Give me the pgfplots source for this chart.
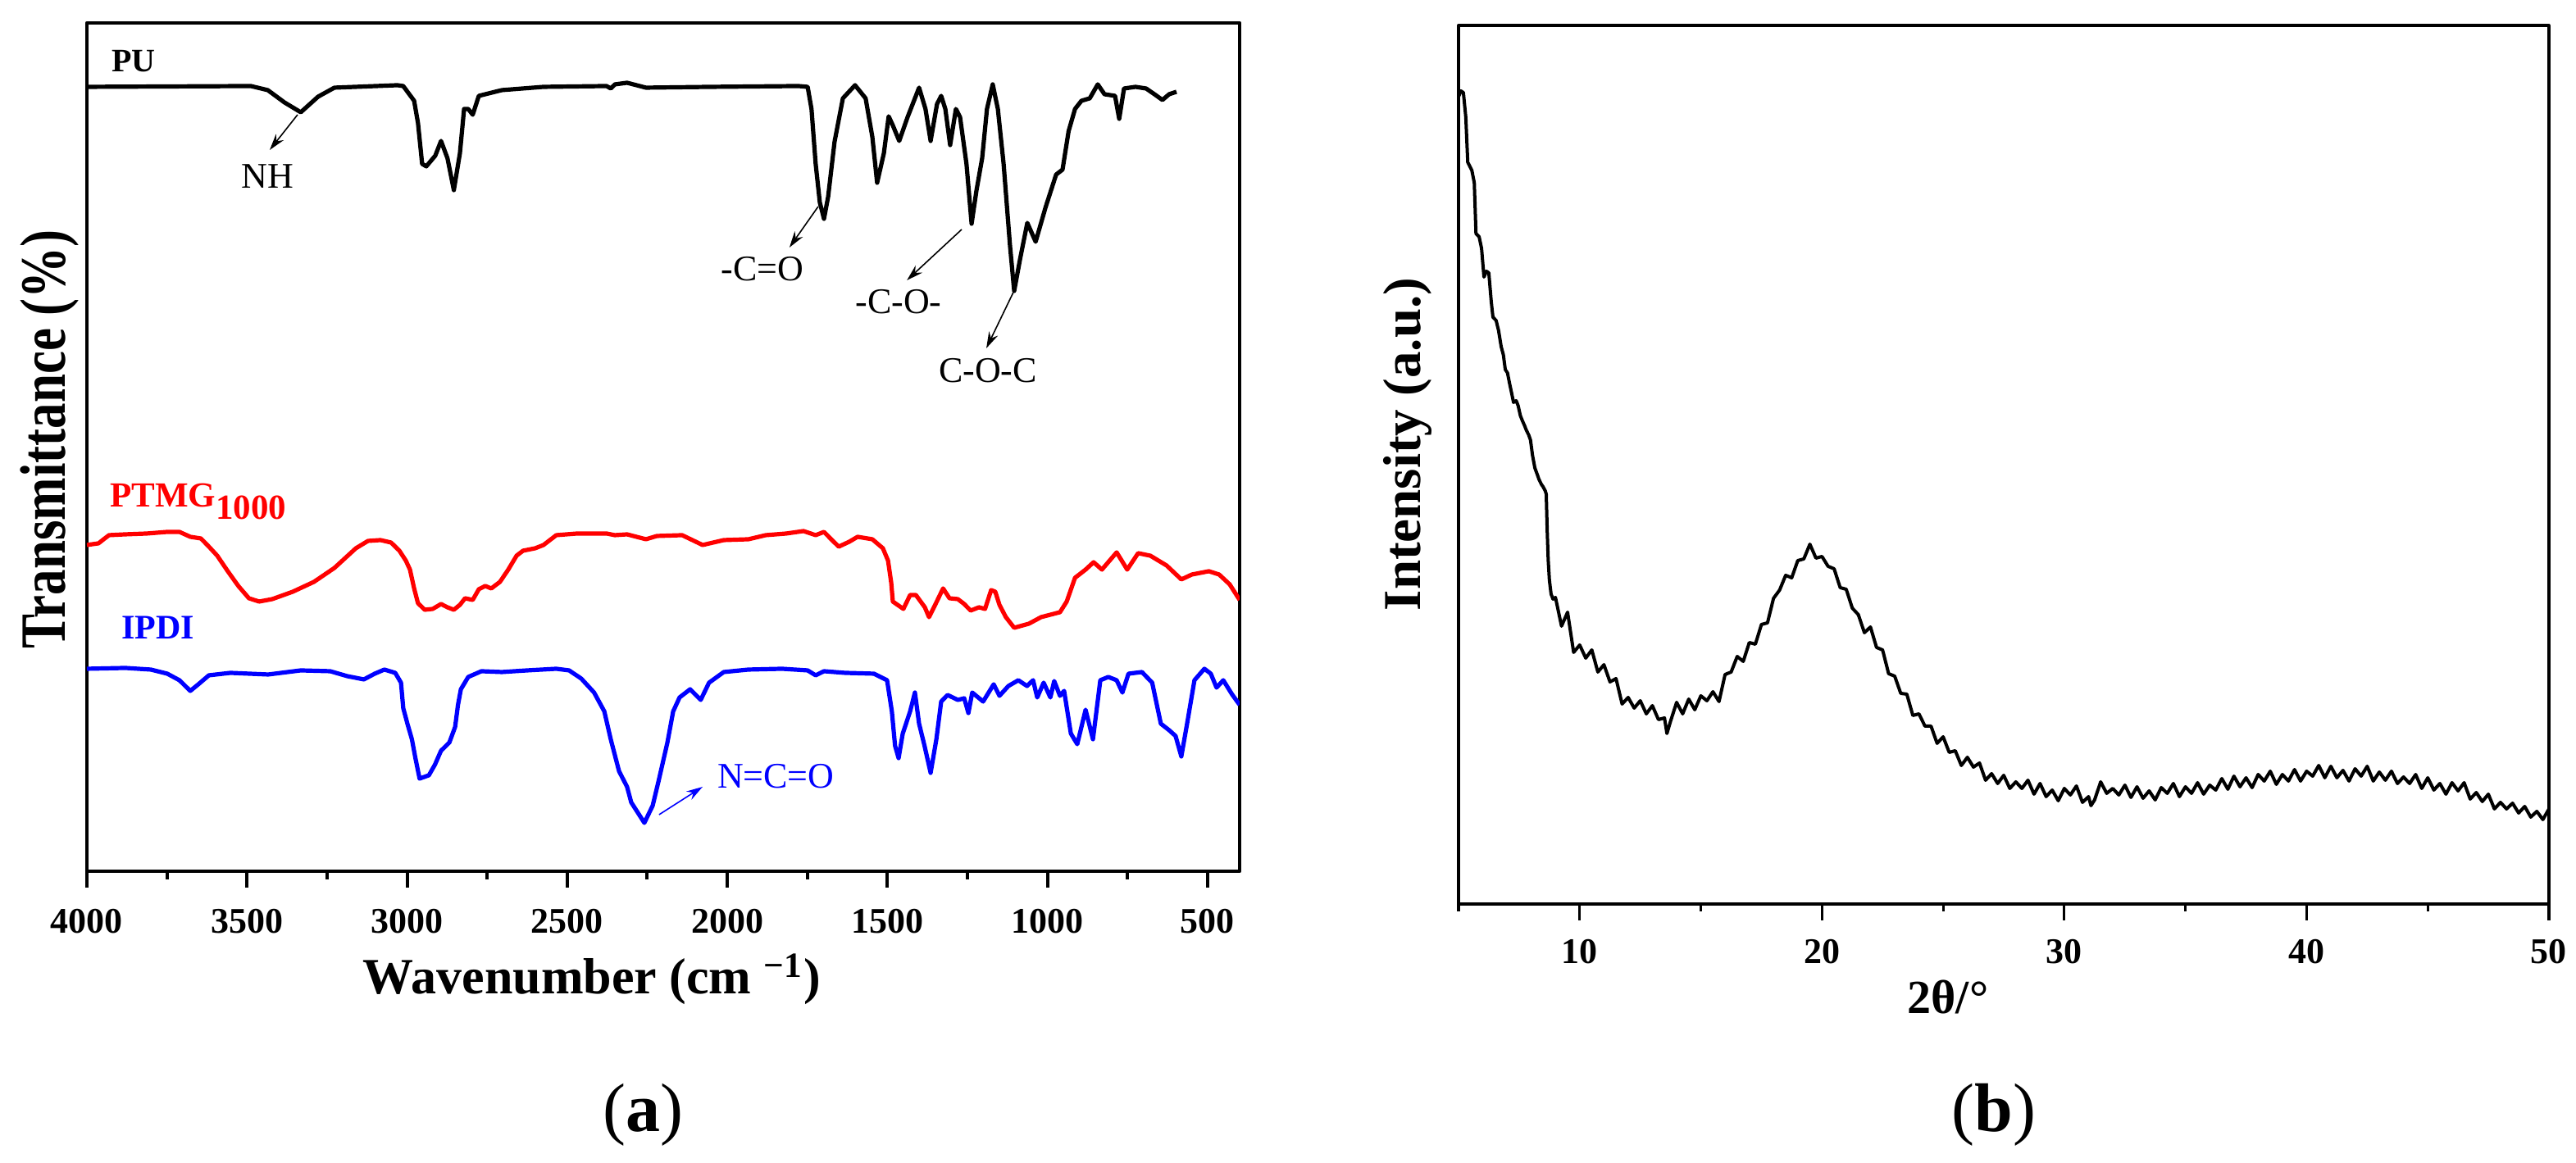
\documentclass[border=0pt]{standalone}
\usepackage{fontspec}
\setmainfont{Liberation Serif}
\usepackage{pgfplots}
\pgfplotsset{compat=1.18}
\usetikzlibrary{arrows.meta}

\newcommand{\fs}[1]{\fontsize{#1}{#1}\selectfont}

\begin{document}
\begin{tikzpicture}
\path[use as bounding box] (0,0) rectangle (785.5pt,354.75pt);

% (a) FTIR spectra
\begin{axis}[
  scale only axis, at={(26.5pt,89pt)}, anchor=south west,
  width=351.5pt, height=258.75pt,
  xmin=400, xmax=4000, x dir=reverse, ymin=0, ymax=1035,
  xtick={500,1000,...,4000}, minor x tick num=1, ytick=\empty,
  xtick pos=bottom, tick align=outside,
  major tick length=5pt, minor tick length=2.5pt,
  tick style={black, line width=1pt},
  axis line style={line width=1.1pt},
  /pgf/number format/assume math mode=true,
  /pgf/number format/1000 sep={},
  xticklabel style={font=\fs{11}\bfseries, inner sep=0pt, anchor=north, yshift=-6.25pt},
  line join=round,
]
\addplot[black, line width=1.3pt] coordinates {
(4000,957)(3488,958)(3435,953)(3383,938)(3332,926)(3278,945)(3227,956)(3030,959)(3012,958)
(2978,940)(2966,913)(2953,863)(2940,860)(2912,873)(2894,891)(2874,870)(2854,831)(2835,876)
(2822,930)(2809,930)(2795,923)(2776,946)(2704,953)(2574,957)(2377,958)(2364,955)(2351,960)
(2313,962)(2254,956)(2051,957)(1778,958)(1749,957)(1737,930)(1724,863)(1711,816)(1698,796)
(1685,823)(1665,890)(1639,943)(1601,959)(1568,943)(1547,896)(1532,840)(1511,876)(1496,921)
(1483,910)(1463,891)(1437,920)(1401,956)(1381,930)(1365,891)(1345,936)(1332,946)(1319,930)
(1304,886)(1286,930)(1273,920)(1253,863)(1237,790)(1222,830)(1204,870)(1189,930)(1171,960)
(1155,930)(1137,863)(1117,763)(1104,708)(1086,746)(1063,791)(1037,768)(1006,810)(973,850)
(953,856)(934,903)(914,930)(894,940)(868,943)(843,960)(822,948)(789,946)(776,918)(761,955)
(725,957)(692,955)(666,948)(641,941)(620,948)(597,951)};
\addplot[red, line width=1.3pt] coordinates {
(4000,398)(3964,400)(3931,410)(3880,411)(3813,412)(3749,414)(3711,414)(3677,408)(3644,406)
(3619,396)(3593,385)(3560,366)(3527,348)(3494,333)(3462,329)(3421,332)(3357,341)(3291,353)
(3227,370)(3160,394)(3122,403)(3083,404)(3050,401)(3024,391)(3004,379)(2991,368)(2978,345)
(2966,327)(2945,319)(2920,320)(2894,326)(2874,322)(2854,319)(2835,325)(2819,333)(2795,331)
(2776,344)(2756,348)(2737,345)(2710,353)(2684,368)(2658,385)(2638,391)(2600,394)(2574,398)
(2534,410)(2469,412)(2377,412)(2351,410)(2313,411)(2254,405)(2220,409)(2141,410)(2077,398)
(2011,404)(1934,405)(1880,410)(1816,412)(1762,415)(1724,410)(1698,414)(1673,404)(1652,396)
(1619,402)(1593,408)(1547,405)(1514,394)(1498,379)(1488,352)(1483,329)(1450,320)(1429,337)
(1411,337)(1383,322)(1370,310)(1352,324)(1326,345)(1306,333)(1280,332)(1260,326)(1240,318)
(1214,322)(1195,320)(1176,343)(1163,341)(1150,325)(1130,310)(1104,297)(1058,302)(1020,310)
(961,316)(940,329)(914,358)(881,368)(856,377)(830,368)(784,389)(751,368)(717,388)(679,385)
(628,373)(582,356)(549,362)(496,366)(464,362)(431,350)(400,331)};
\addplot[blue, line width=1.3pt] coordinates {
(4000,247)(3880,248)(3800,246)(3749,241)(3711,233)(3677,220)(3652,228)(3619,239)(3552,242)
(3434,240)(3332,245)(3240,244)(3187,238)(3135,234)(3101,241)(3071,246)(3037,242)(3019,230)
(3012,199)(2999,180)(2985,161)(2974,138)(2961,113)(2932,117)(2913,130)(2894,147)(2868,157)
(2850,176)(2841,203)(2832,222)(2809,237)(2768,244)(2704,243)(2625,245)(2534,247)(2494,245)
(2456,235)(2416,218)(2384,195)(2364,161)(2338,122)(2313,103)(2300,84)(2259,59)(2233,80)
(2214,111)(2187,157)(2169,195)(2149,212)(2116,222)(2083,209)(2057,230)(2011,243)(1934,246)
(1829,247)(1749,245)(1724,239)(1698,244)(1632,242)(1542,241)(1501,233)(1486,195)(1476,153)
(1465,138)(1452,168)(1429,195)(1414,218)(1401,180)(1384,153)(1365,120)(1347,161)(1332,207)
(1312,215)(1280,209)(1260,211)(1247,193)(1235,218)(1201,207)(1168,228)(1150,214)(1122,226)
(1091,233)(1064,226)(1045,233)(1032,212)(1012,230)(991,212)(979,232)(961,214)(948,220)
(927,168)(907,155)(881,197)(858,161)(835,233)(810,237)(784,233)(766,218)(747,241)(705,243)
(673,230)(646,180)(620,172)(600,165)(582,140)(564,180)(541,233)(510,247)(490,241)(472,224)
(451,233)(424,216)(400,203)};

\node[anchor=base west, font=\fs{10}\bfseries] at (axis cs:3959,975) {PU};
\node[anchor=base west, font=\fs{10.75}\bfseries, red] at (axis cs:3964,444) {PTMG\raisebox{-3.75pt}{1000}};
\node[anchor=base west, font=\fs{10.5}\bfseries, blue] at (axis cs:3928,283) {IPDI};

\node[anchor=base, font=\fs{11}] at (axis cs:3436,833) {NH};
\node[anchor=base, font=\fs{11}] at (axis cs:1890,720) {-C=O};
\node[anchor=base, font=\fs{11}] at (axis cs:1465,680) {-C-O-};
\node[anchor=base, font=\fs{11}] at (axis cs:1186,596) {C-O-C};
\node[anchor=base west, font=\fs{11}, blue] at (axis cs:2067,101) {N=C=O};

\draw[-{Stealth[length=5pt,width=3pt]}, line width=0.4pt] (axis cs:3342,923) -- (axis cs:3429,880);
\draw[-{Stealth[length=5pt,width=3pt]}, line width=0.4pt] (axis cs:1716,811) -- (axis cs:1806,761);
\draw[-{Stealth[length=5pt,width=3pt]}, line width=0.4pt] (axis cs:1268,783) -- (axis cs:1439,721);
\draw[-{Stealth[length=5pt,width=3pt]}, line width=0.4pt] (axis cs:1107,706) -- (axis cs:1191,638);
\draw[-{Stealth[length=5pt,width=3pt]}, line width=0.4pt, blue] (axis cs:2213,69) -- (axis cs:2077,103);
\end{axis}

% (b) XRD pattern
\begin{axis}[
  scale only axis, at={(444.75pt,79pt)}, anchor=south west,
  width=332.5pt, height=268pt,
  xmin=5, xmax=50, ymin=0, ymax=1072,
  xtick={10,20,30,40,50}, minor xtick={5,15,25,35,45}, ytick=\empty,
  xtick pos=bottom, tick align=outside,
  major tick length=5pt, minor tick length=2.25pt,
  tick style={black, line width=0.8pt},
  axis line style={line width=0.8pt},
  /pgf/number format/assume math mode=true,
  xticklabel style={font=\fs{11}\bfseries, inner sep=0pt, anchor=north, yshift=-5.5pt},
  line join=round,
]
\addplot[black, line width=1pt] coordinates {
(5.00,985)(5.10,992)(5.20,990)(5.30,960)(5.38,905)(5.55,895)(5.65,880)(5.72,818)(5.85,814)
(5.95,800)(6.05,765)(6.15,772)(6.25,770)(6.35,735)(6.42,716)(6.55,712)(6.65,700)(6.76,680)
(6.85,670)(6.93,652)(7.02,648)(7.10,636)(7.20,622)(7.27,612)(7.38,614)(7.46,608)(7.55,596)
(7.63,590)(7.72,584)(7.80,578)(7.90,572)(7.97,566)(8.05,548)(8.15,532)(8.25,524)(8.32,518)
(8.42,512)(8.49,509)(8.58,504)(8.62,500)(8.66,455)(8.70,420)(8.75,395)(8.82,378)(8.90,372)
(9.00,374)(9.25,339)(9.50,356)(9.75,307)(10.00,316)(10.25,300)(10.50,310)(10.75,283)(11.00,292)
(11.25,271)(11.50,275)(11.75,244)(12.00,252)(12.25,239)(12.50,248)(12.75,232)(13.00,242)(13.25,225)
(13.50,227)(13.60,208)(13.75,223)(14.00,246)(14.25,232)(14.50,250)(14.75,237)(15.00,254)(15.25,248)
(15.50,259)(15.75,247)(16.00,280)(16.25,283)(16.50,302)(16.75,296)(17.00,319)(17.25,317)(17.50,341)
(17.75,343)(18.00,373)(18.25,383)(18.50,401)(18.75,398)(19.00,419)(19.25,421)(19.50,439)(19.75,422)
(20.00,424)(20.25,412)(20.50,409)(20.75,386)(21.00,384)(21.25,361)(21.50,353)(21.75,331)(22.00,338)
(22.25,313)(22.50,310)(22.75,281)(23.00,278)(23.25,257)(23.50,256)(23.75,230)(24.00,232)(24.25,217)
(24.50,217)(24.75,196)(25.00,204)(25.25,185)(25.50,187)(25.75,169)(26.00,179)(26.25,167)(26.50,172)
(26.75,151)(27.00,159)(27.25,147)(27.50,157)(27.75,141)(28.00,149)(28.25,141)(28.50,151)(28.75,134)
(29.00,147)(29.25,131)(29.50,139)(29.75,126)(30.00,141)(30.25,133)(30.50,144)(30.75,124)(31.00,131)
(31.10,120)(31.25,127)(31.50,149)(31.75,135)(32.00,141)(32.25,133)(32.50,145)(32.75,130)(33.00,143)
(33.25,129)(33.50,138)(33.75,127)(34.00,142)(34.25,135)(34.50,147)(34.75,131)(35.00,143)(35.25,135)
(35.50,148)(35.75,134)(36.00,145)(36.25,139)(36.50,153)(36.75,140)(37.00,156)(37.25,143)(37.50,154)
(37.75,142)(38.00,158)(38.25,150)(38.50,162)(38.75,146)(39.00,158)(39.25,150)(39.50,164)(39.75,150)
(40.00,162)(40.25,156)(40.50,169)(40.75,154)(41.00,168)(41.25,154)(41.50,163)(41.75,150)(42.00,165)
(42.25,156)(42.50,168)(42.75,150)(43.00,161)(43.25,151)(43.50,162)(43.75,147)(44.00,155)(44.25,147)
(44.50,158)(44.75,141)(45.00,154)(45.25,139)(45.50,147)(45.75,134)(46.00,148)(46.25,138)(46.50,148)
(46.75,128)(47.00,136)(47.25,125)(47.50,134)(47.75,116)(48.00,124)(48.25,116)(48.50,123)(48.75,111)
(49.00,119)(49.25,106)(49.50,113)(49.75,103)(50.00,116)};
\end{axis}

% axis titles and panel labels
\node[anchor=base, font=\fs{15.5}\bfseries] at (180.5pt,51.5pt) {Wavenumber (cm \textsuperscript{−1})};
\node[rotate=90, anchor=base, font=\fs{15.75}\bfseries] at (19.75pt,220.75pt) {\scalebox{1}[1.25]{Transmittance (\%)}};
\node[rotate=90, anchor=base, font=\fs{16.25}\bfseries] at (433pt,219.25pt) {Intensity (a.u.)};
\node[anchor=base, font=\fs{14.5}\bfseries] at (594pt,45.5pt) {2θ/°};
\node[font=\fs{21}] at (196pt,14.75pt) {(\textbf{a})};
\node[font=\fs{21}] at (608pt,14.75pt) {(\textbf{b})};
\end{tikzpicture}
\end{document}
